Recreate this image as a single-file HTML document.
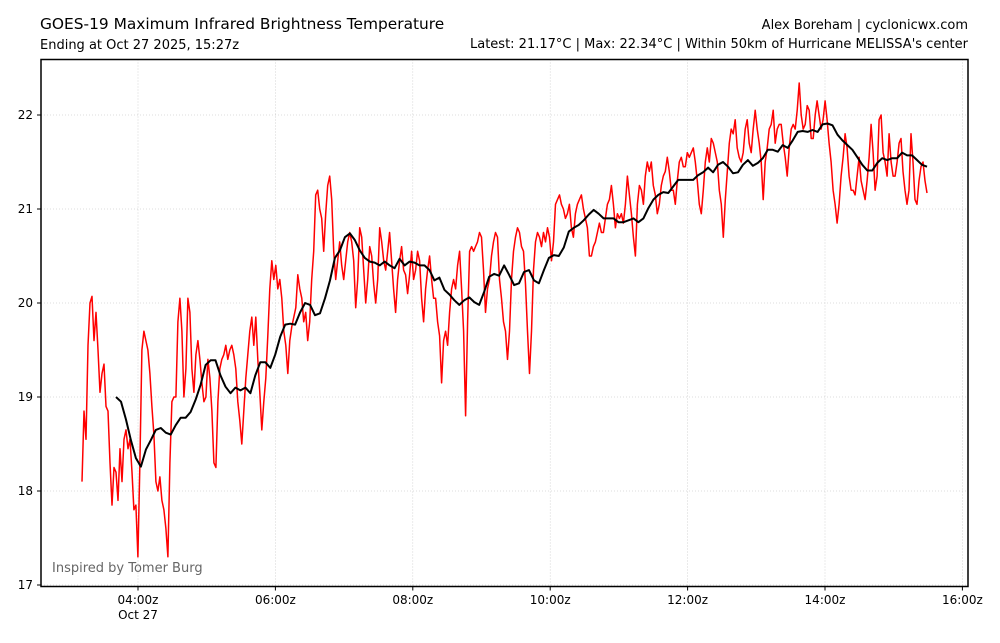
<!DOCTYPE html>
<html><head><meta charset="utf-8"><style>
body{margin:0;background:#fff;font-family:"Liberation Sans",sans-serif;}
svg text{font-family:"DejaVu Sans","Liberation Sans",sans-serif;}
</style></head><body>
<svg id="chart" width="1000" height="638" viewBox="0 0 1000 638" xmlns="http://www.w3.org/2000/svg">
<rect width="1000" height="638" fill="#fff"/>
<text x="40" y="29" font-size="15.4">GOES-19 Maximum Infrared Brightness Temperature</text>
<text x="40" y="49" font-size="13">Ending at Oct 27 2025, 15:27z</text>
<text x="968" y="29" font-size="13" text-anchor="end">Alex Boreham | cyclonicwx.com</text>
<text x="968" y="48" font-size="13" text-anchor="end">Latest: 21.17°C | Max: 22.34°C | Within 50km of Hurricane MELISSA's center</text>
<g id="grid"></g>
<g id="series"></g>
<rect x="41" y="59.5" width="927" height="527" fill="none" stroke="#000" stroke-width="1.5"/>
<g id="axes"></g>
<text x="52" y="572" font-size="13" fill="#666">Inspired by Tomer Burg</text>
</svg>
<script>
const yTicks=[17,18,19,20,21,22];
const xTickHours=[4,6,8,10,12,14,16];
const xTickLabels=["04:00z","06:00z","08:00z","10:00z","12:00z","14:00z","16:00z"];
const redStartHour=3.185, redEndHour=15.485;
const redValues=[18.1,18.85,18.55,19.55,20.0,20.07,19.6,19.9,19.5,19.05,19.25,19.35,18.9,18.85,18.3,17.85,18.25,18.2,17.9,18.45,18.1,18.55,18.65,18.45,18.55,18.2,17.8,17.85,17.3,18.3,19.5,19.7,19.6,19.5,19.25,18.9,18.6,18.1,18.0,18.15,17.9,17.8,17.6,17.3,18.3,18.95,19.0,19.0,19.8,20.05,19.7,19.0,19.3,20.05,19.9,19.3,19.05,19.45,19.6,19.4,19.15,18.95,19.0,19.4,19.2,18.85,18.3,18.25,18.95,19.3,19.4,19.45,19.55,19.4,19.5,19.55,19.45,19.3,18.95,18.75,18.5,18.85,19.2,19.45,19.7,19.85,19.55,19.85,19.4,19.05,18.65,18.95,19.2,19.65,20.15,20.45,20.25,20.4,20.15,20.25,20.05,19.7,19.55,19.25,19.6,19.75,19.85,19.95,20.3,20.15,20.05,19.8,19.9,19.6,19.8,20.25,20.55,21.15,21.2,21.0,20.9,20.55,20.95,21.25,21.35,21.1,20.55,20.25,20.45,20.65,20.4,20.25,20.45,20.65,20.75,20.65,20.45,19.95,20.25,20.8,20.7,20.35,20.0,20.25,20.6,20.5,20.2,20.0,20.25,20.8,20.65,20.45,20.35,20.55,20.75,20.45,20.15,19.9,20.25,20.45,20.6,20.35,20.3,20.1,20.3,20.55,20.25,20.35,20.55,20.45,20.05,19.8,20.15,20.35,20.5,20.25,20.05,20.05,19.8,19.65,19.15,19.6,19.7,19.55,19.9,20.15,20.25,20.15,20.4,20.55,20.15,19.7,18.8,19.8,20.55,20.6,20.55,20.6,20.65,20.75,20.7,20.35,19.9,20.15,20.25,20.5,20.65,20.75,20.7,20.25,20.05,19.8,19.7,19.4,19.7,20.25,20.55,20.7,20.8,20.75,20.6,20.55,20.2,19.7,19.25,19.7,20.35,20.65,20.75,20.7,20.6,20.75,20.65,20.8,20.7,20.45,20.65,21.05,21.1,21.15,21.05,21.0,20.9,20.95,21.05,20.8,20.7,20.95,21.05,21.1,21.15,21.0,20.9,20.8,20.5,20.5,20.6,20.65,20.75,20.85,20.75,20.75,20.9,21.05,21.1,21.25,21.05,20.8,20.95,20.9,20.95,20.85,21.05,21.35,21.15,20.95,20.7,20.5,21.05,21.25,21.2,21.05,21.35,21.5,21.4,21.5,21.25,21.15,20.95,21.05,21.25,21.35,21.4,21.55,21.4,21.2,21.2,21.05,21.3,21.5,21.55,21.45,21.45,21.6,21.55,21.6,21.65,21.5,21.3,21.05,20.95,21.2,21.5,21.65,21.5,21.75,21.7,21.6,21.5,21.2,21.05,20.7,21.1,21.4,21.7,21.85,21.8,21.95,21.65,21.55,21.5,21.6,21.85,21.95,21.7,21.6,21.85,22.05,21.85,21.7,21.5,21.1,21.5,21.65,21.85,21.9,22.05,21.7,21.85,21.9,21.9,21.7,21.55,21.35,21.65,21.85,21.9,21.85,22.05,22.34,22.0,21.85,21.9,22.1,22.05,21.75,21.75,22.0,22.15,22.0,21.85,21.95,22.15,21.95,21.7,21.5,21.2,21.05,20.85,21.05,21.35,21.55,21.8,21.65,21.35,21.2,21.2,21.15,21.35,21.55,21.3,21.2,21.1,21.3,21.55,21.9,21.6,21.2,21.35,21.95,22.0,21.6,21.5,21.35,21.8,21.5,21.35,21.35,21.5,21.7,21.75,21.4,21.2,21.05,21.2,21.8,21.5,21.1,21.05,21.3,21.45,21.5,21.3,21.17];
const smoothStartHour=3.68, smoothEndHour=15.485;
const smoothValues=[19.00,18.95,18.76,18.54,18.35,18.26,18.44,18.54,18.65,18.67,18.62,18.60,18.70,18.78,18.78,18.84,18.97,19.13,19.34,19.39,19.39,19.23,19.11,19.04,19.10,19.07,19.10,19.04,19.23,19.37,19.37,19.31,19.45,19.64,19.77,19.78,19.77,19.90,20.00,19.98,19.87,19.89,20.05,20.24,20.48,20.56,20.70,20.74,20.67,20.56,20.48,20.44,20.43,20.40,20.44,20.40,20.37,20.47,20.40,20.44,20.43,20.40,20.40,20.35,20.24,20.27,20.14,20.09,20.03,19.98,20.03,20.06,20.01,19.98,20.12,20.28,20.31,20.29,20.40,20.30,20.19,20.21,20.33,20.35,20.24,20.21,20.35,20.48,20.51,20.50,20.59,20.76,20.80,20.83,20.88,20.94,20.99,20.95,20.90,20.90,20.90,20.86,20.86,20.88,20.90,20.86,20.90,21.01,21.10,21.15,21.18,21.17,21.24,21.31,21.31,21.31,21.31,21.36,21.39,21.44,21.39,21.47,21.50,21.45,21.38,21.39,21.47,21.52,21.46,21.49,21.54,21.63,21.63,21.61,21.68,21.65,21.73,21.82,21.83,21.82,21.84,21.82,21.90,21.91,21.89,21.79,21.73,21.68,21.63,21.55,21.47,21.41,21.41,21.49,21.54,21.52,21.54,21.54,21.60,21.57,21.57,21.52,21.47,21.45];

const NS="http://www.w3.org/2000/svg";
const X0=41,X1=968,Y0=59.5,Y1=586.5;
function xScale(h){return 138+(h-4)*68.7;}
function yScale(v){return 585-(v-17)*94;}
function mk(tag,attrs,parent){const e=document.createElementNS(NS,tag);for(const k in attrs)e.setAttribute(k,attrs[k]);parent.appendChild(e);return e;}
const grid=document.getElementById('grid'),axes=document.getElementById('axes'),series=document.getElementById('series');
yTicks.forEach(v=>{
  const y=yScale(v);
  const gl=mk('line',{x1:X0,x2:X1,y1:y,y2:y,stroke:'#bbb','stroke-width':0.6,'stroke-dasharray':'1,2'},grid);
  
  
  mk('line',{x1:X0-4,x2:X0,y1:y,y2:y,stroke:'#000','stroke-width':1},axes);
  const t=mk('text',{x:X0-8,y:y+4,'font-size':12,'text-anchor':'end'},axes);
  t.textContent=v;
  
  
});
xTickHours.forEach((h,i)=>{
  const x=xScale(h);
  const gl=mk('line',{x1:x,x2:x,y1:Y0,y2:Y1,stroke:'#bbb','stroke-width':0.6,'stroke-dasharray':'1,2'},grid);
  
  
  mk('line',{x1:x,x2:x,y1:Y1,y2:Y1+4,stroke:'#000','stroke-width':1},axes);
  const t=mk('text',{x:x,y:604,'font-size':12,'text-anchor':'middle'},axes);
  t.textContent=xTickLabels[i];
  
  
});
const d=mk('text',{x:xScale(4),y:619,'font-size':12,'text-anchor':'middle'},axes);
d.textContent='Oct 27';


function pathFor(vals,h0,h1){
  const n=vals.length;
  return vals.map((v,i)=>{const h=h0+(h1-h0)*i/(n-1);return (i?'L':'M')+xScale(h).toFixed(1)+','+yScale(v).toFixed(1);}).join('');
}
const red=mk('path',{d:pathFor(redValues,redStartHour,redEndHour),fill:'none',stroke:'#ff0000','stroke-width':1.5,'stroke-linejoin':'round'},series);


const blk=mk('path',{d:pathFor(smoothValues,smoothStartHour,smoothEndHour),fill:'none',stroke:'#000','stroke-width':2,'stroke-linejoin':'round'},series);


</script>
</body></html>
